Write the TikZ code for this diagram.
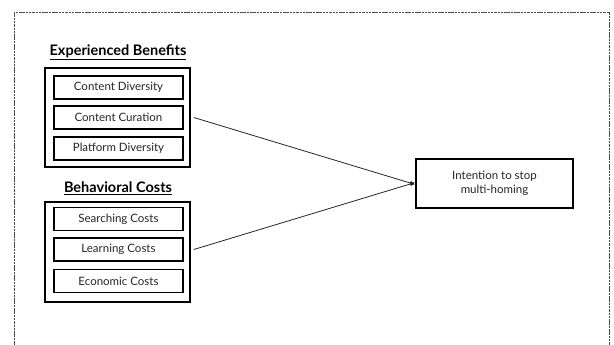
\documentclass[tikz,border=0pt]{standalone}
\usepackage{fontspec}
\setmainfont{Lato}
\usetikzlibrary{arrows.meta}
\definecolor{txt}{HTML}{262626}
\begin{document}
\begin{tikzpicture}[x=1pt,y=-1pt,
  outerbox/.style={draw=black, line width=1.6pt, minimum width=145pt, inner sep=0pt},
  itembox/.style={draw=black, line width=1.5pt, minimum width=129pt, minimum height=23pt, inner sep=0pt, font=\fontsize{11.5}{13}\selectfont, text=txt},
  grouptitle/.style={font=\fontsize{14.5}{16}\selectfont\bfseries, inner sep=0pt},
  targetbox/.style={draw=black, line width=1.6pt, minimum width=157pt, minimum height=49pt, inner sep=0pt, align=center, font=\fontsize{11.5}{14}\selectfont, text=txt},
  link/.style={draw=black!85, line width=0.8pt, -{Latex[length=5pt,width=4.5pt]}}]
\useasboundingbox (0,0) rectangle (614,345);
\fill[white] (0,0) rectangle (614,345);
\draw[black!70, line width=0.8pt, dash pattern=on 2.5pt off 0.8pt] (14,360) -- (14,12) -- (609.5,12) -- (609.5,360);

\node[outerbox, minimum height=99pt] (g1) at (117.5,117.5) {};
\node[itembox] (cd) at (118.5,87.5) {Content Diversity};
\node[itembox] (cc) at (118.5,117.5) {Content Curation};
\node[itembox] (pd) at (118.5,148.5) {Platform Diversity};
\node[grouptitle] (t1) at (118,52) {\underline{Experienced Benefits}};

\node[outerbox, minimum height=100pt] (g2) at (117.5,252) {};
\node[itembox] (sc) at (118.5,219) {Searching Costs};
\node[itembox] (lc) at (118.5,249.5) {Learning Costs};
\node[itembox] (ec) at (118.5,281) {Economic Costs};
\node[grouptitle] (t2) at (118,188) {\underline{Behavioral Costs}};

\node[targetbox] (tg) at (494.5,183.5) {Intention to stop\\multi-homing};

\coordinate (s1) at ([xshift=3pt]g1.east |- cc.east);
\coordinate (s2) at ([xshift=3pt]g2.east |- lc.east);
\draw[link] (s1) -- ([yshift=-1pt]tg.west);
\draw[link] (s2) -- ([yshift=1pt]tg.west);
\end{tikzpicture}
\end{document}
